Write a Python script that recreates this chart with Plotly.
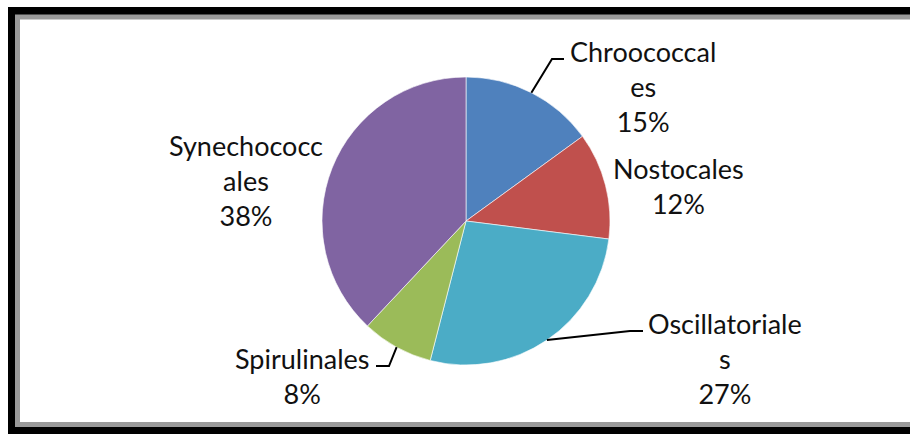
import math
import plotly.graph_objects as go

# ---- data ----
categories = ["Chroococcales", "Nostocales", "Oscillatoriales", "Spirulinales", "Synechococcales"]
values = [15, 12, 27, 8, 38]
label_texts = ["Chroococcal<br>es<br>15%", "Nostocales<br>12%", "Oscillatoriale<br>s<br>27%",
               "Spirulinales<br>8%", "Synechococc<br>ales<br>38%"]
colors = ["#4F81BD", "#C0504D", "#4BACC6", "#9BBB59", "#8064A2"]

W, H = 910, 434
CX, CY, R = 466, 221, 144

def px(x):
    return x / W

def py(y):
    return 1 - y / H

fig = go.Figure(go.Pie(
    labels=categories, values=values, sort=False, direction="clockwise", rotation=0,
    marker=dict(colors=colors, line=dict(color="rgba(255,255,255,0.6)", width=1)),
    textinfo="none", hoverinfo="label+percent", showlegend=False,
    domain=dict(x=[px(CX - R), px(CX + R)], y=[py(CY + R), py(CY - R)]),
))

# frame
shapes = [
    dict(type="rect", xref="paper", yref="paper", x0=px(8), x1=px(912), y0=py(436), y1=py(7),
         fillcolor="black", line=dict(width=0), layer="below"),
    dict(type="rect", xref="paper", yref="paper", x0=px(15), x1=px(912), y0=py(427), y1=py(14.5),
         fillcolor="#9a9a9a", line=dict(width=0), layer="below"),
    dict(type="rect", xref="paper", yref="paper", x0=px(20), x1=px(912), y0=py(422), y1=py(19.5),
         fillcolor="white", line=dict(width=0), layer="below"),
]

# label placements (pixel centers) and leader-line elbows/ends
label_pos = {
    "Chroococcales": (643, 86),
    "Nostocales": (678, 186),
    "Oscillatoriales": (725, 358),
    "Spirulinales": (302, 376),
    "Synechococcales": (246, 180),
}
leaders = {
    "Chroococcales": [(552, 59), (564, 59)],
    "Oscillatoriales": [(630, 331), (643, 331)],
    "Spirulinales": [(389, 366), (376, 366)],
}

total = sum(values)
cum = 0
annotations = []
for cat, v, t in zip(categories, values, label_texts):
    mid = (cum + v / 2) / total * 2 * math.pi
    cum += v
    sx = CX + R * math.sin(mid)
    sy = CY - R * math.cos(mid)
    lx, ly = label_pos[cat]
    annotations.append(dict(x=px(lx), y=py(ly), xref="paper", yref="paper", text=t,
                            showarrow=False, xanchor="center", yanchor="middle", align="center",
                            font=dict(family="Lato", size=27, color="#111111")))
    if cat in leaders:
        pts = [(sx, sy)] + leaders[cat]
        path = "M " + " L ".join(f"{px(a):.5f},{py(b):.5f}" for a, b in pts)
        shapes.append(dict(type="path", xref="paper", yref="paper", path=path,
                           line=dict(color="black", width=2)))

fig.update_layout(
    width=W, height=H, margin=dict(l=0, r=0, t=0, b=0),
    paper_bgcolor="white", plot_bgcolor="white",
    shapes=shapes, annotations=annotations,
)

fig.write_html("out.html")
